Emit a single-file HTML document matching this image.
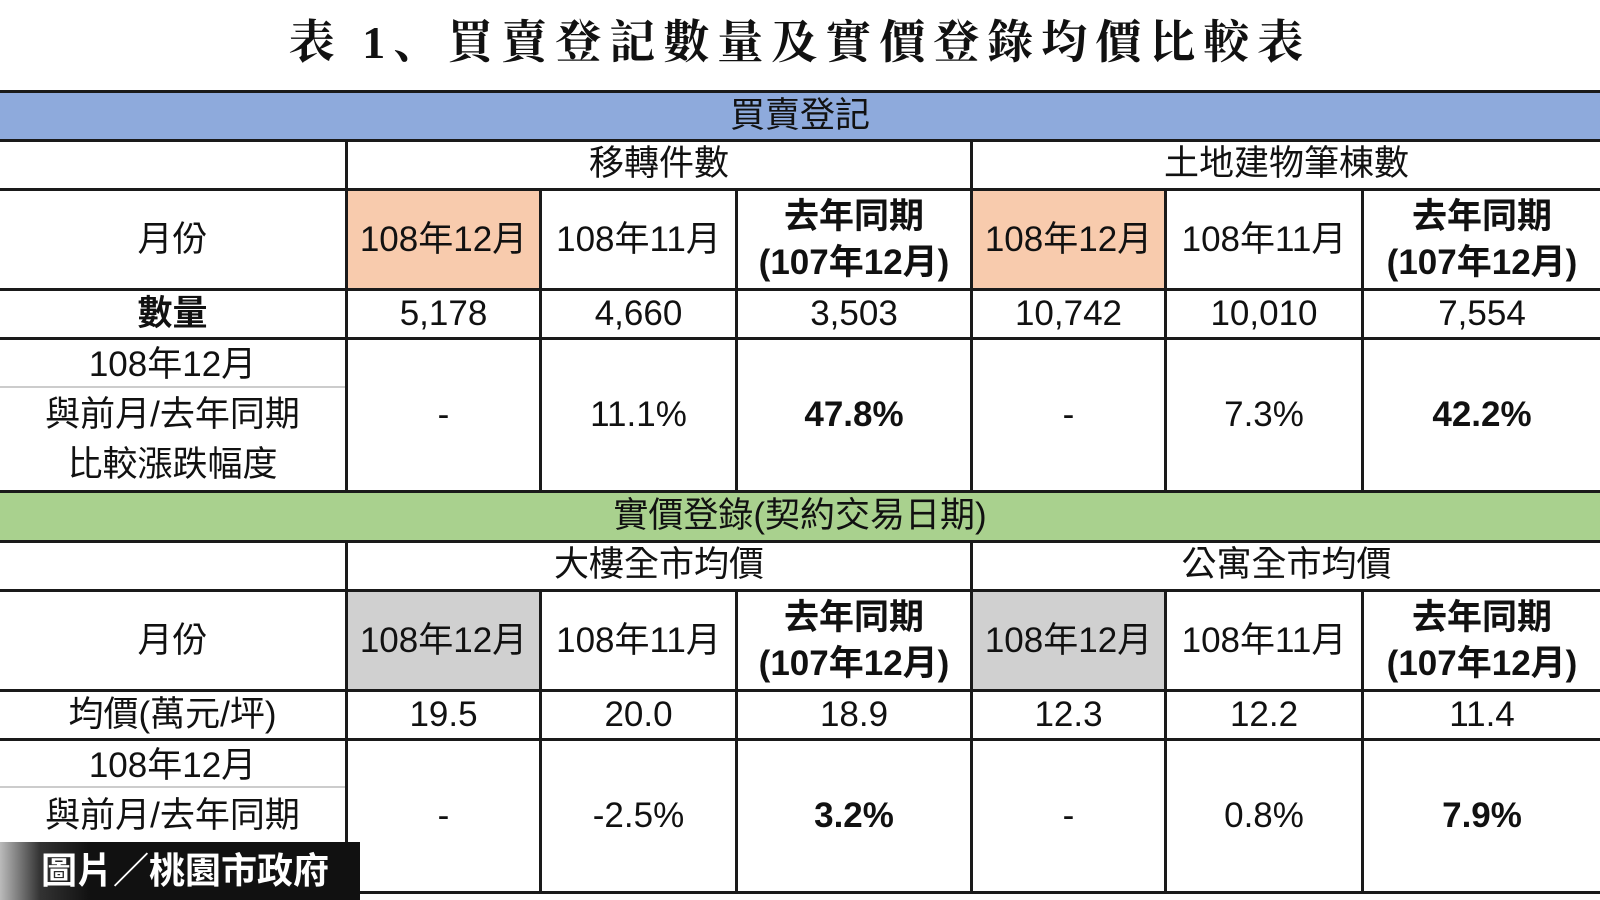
<!DOCTYPE html>
<html><head><meta charset="utf-8"><style>
body{margin:0;width:1600px;height:900px;background:#fff;position:relative;overflow:hidden;font-family:"Liberation Sans","Noto Sans CJK TC",sans-serif;color:#111}
div{position:absolute;box-sizing:border-box}
.h{left:0;width:1600px;height:3px;background:#1a1a1a}
.v{width:3px;background:#1a1a1a}
.t{display:flex;align-items:center;justify-content:center;text-align:center;font-size:35px;line-height:50px;white-space:nowrap}
.b{font-weight:bold}
</style></head><body>
<div class="t" style="left:0;top:10px;width:1600px;height:66px;font-family:'Liberation Serif','Noto Serif CJK SC',serif;font-weight:bold;font-size:46px;letter-spacing:8px">表 1、買賣登記數量及實價登錄均價比較表</div>

<div style="left:0;top:92px;width:1600px;height:48px;background:#8eaadc"></div>
<div style="left:0;top:491px;width:1600px;height:50px;background:#a9d18e"></div>
<div style="left:348px;top:191px;width:192px;height:98px;background:#f8cbad"></div>
<div style="left:973px;top:191px;width:192px;height:98px;background:#f8cbad"></div>
<div style="left:348px;top:592px;width:192px;height:98px;background:#d0d0d0"></div>
<div style="left:973px;top:592px;width:192px;height:98px;background:#d0d0d0"></div>

<div class="h" style="top:90px"></div>
<div class="h" style="top:139px"></div>
<div class="h" style="top:188px"></div>
<div class="h" style="top:288px"></div>
<div class="h" style="top:337px"></div>
<div class="h" style="top:490px"></div>
<div class="h" style="top:540px"></div>
<div class="h" style="top:589px"></div>
<div class="h" style="top:689px"></div>
<div class="h" style="top:738px"></div>
<div class="h" style="top:891px"></div>
<div style="left:0;top:386px;width:346px;height:2px;background:#ccc"></div>
<div style="left:0;top:786px;width:346px;height:2px;background:#ccc"></div>

<div class="v" style="left:345px;top:140px;height:351px"></div>
<div class="v" style="left:345px;top:541px;height:351px"></div>
<div class="v" style="left:970px;top:140px;height:351px"></div>
<div class="v" style="left:970px;top:541px;height:351px"></div>
<div class="v" style="left:539px;top:189px;height:302px"></div>
<div class="v" style="left:735px;top:189px;height:302px"></div>
<div class="v" style="left:1164px;top:189px;height:302px"></div>
<div class="v" style="left:1361px;top:189px;height:302px"></div>
<div class="v" style="left:539px;top:590px;height:302px"></div>
<div class="v" style="left:735px;top:590px;height:302px"></div>
<div class="v" style="left:1164px;top:590px;height:302px"></div>
<div class="v" style="left:1361px;top:590px;height:302px"></div>

<div class="t" style="left:0;top:92px;width:1600px;height:48px">買賣登記</div>
<div class="t" style="left:348px;top:140px;width:622px;height:48px">移轉件數</div>
<div class="t" style="left:973px;top:140px;width:627px;height:48px">土地建物筆棟數</div>
<div class="t" style="left:0;top:191px;width:345px;height:97px">月份</div>
<div class="t" style="left:348px;top:191px;width:191px;height:97px">108年12月</div>
<div class="t" style="left:542px;top:191px;width:193px;height:97px">108年11月</div>
<div class="t b" style="left:738px;top:191px;width:232px;height:97px;line-height:46px">去年同期<br>(107年12月)</div>
<div class="t" style="left:973px;top:191px;width:191px;height:97px">108年12月</div>
<div class="t" style="left:1167px;top:191px;width:194px;height:97px">108年11月</div>
<div class="t b" style="left:1364px;top:191px;width:236px;height:97px;line-height:46px">去年同期<br>(107年12月)</div>
<div class="t b" style="left:0;top:291px;width:345px;height:46px">數量</div>
<div class="t" style="left:348px;top:291px;width:191px;height:46px">5,178</div>
<div class="t" style="left:542px;top:291px;width:193px;height:46px">4,660</div>
<div class="t" style="left:738px;top:291px;width:232px;height:46px">3,503</div>
<div class="t" style="left:973px;top:291px;width:191px;height:46px">10,742</div>
<div class="t" style="left:1167px;top:291px;width:194px;height:46px">10,010</div>
<div class="t" style="left:1364px;top:291px;width:236px;height:46px">7,554</div>
<div class="t" style="left:0;top:340px;width:345px;height:150px;line-height:50px">108年12月<br>與前月/去年同期<br>比較漲跌幅度</div>
<div class="t" style="left:348px;top:340px;width:191px;height:150px">-</div>
<div class="t" style="left:542px;top:340px;width:193px;height:150px">11.1%</div>
<div class="t b" style="left:738px;top:340px;width:232px;height:150px">47.8%</div>
<div class="t" style="left:973px;top:340px;width:191px;height:150px">-</div>
<div class="t" style="left:1167px;top:340px;width:194px;height:150px">7.3%</div>
<div class="t b" style="left:1364px;top:340px;width:236px;height:150px">42.2%</div>

<div class="t" style="left:0;top:492px;width:1600px;height:48px">實價登錄(契約交易日期)</div>
<div class="t" style="left:348px;top:541px;width:622px;height:48px">大樓全市均價</div>
<div class="t" style="left:973px;top:541px;width:627px;height:48px">公寓全市均價</div>
<div class="t" style="left:0;top:592px;width:345px;height:97px">月份</div>
<div class="t" style="left:348px;top:592px;width:191px;height:97px">108年12月</div>
<div class="t" style="left:542px;top:592px;width:193px;height:97px">108年11月</div>
<div class="t b" style="left:738px;top:592px;width:232px;height:97px;line-height:46px">去年同期<br>(107年12月)</div>
<div class="t" style="left:973px;top:592px;width:191px;height:97px">108年12月</div>
<div class="t" style="left:1167px;top:592px;width:194px;height:97px">108年11月</div>
<div class="t b" style="left:1364px;top:592px;width:236px;height:97px;line-height:46px">去年同期<br>(107年12月)</div>
<div class="t" style="left:0;top:692px;width:345px;height:46px">均價(萬元/坪)</div>
<div class="t" style="left:348px;top:692px;width:191px;height:46px">19.5</div>
<div class="t" style="left:542px;top:692px;width:193px;height:46px">20.0</div>
<div class="t" style="left:738px;top:692px;width:232px;height:46px">18.9</div>
<div class="t" style="left:973px;top:692px;width:191px;height:46px">12.3</div>
<div class="t" style="left:1167px;top:692px;width:194px;height:46px">12.2</div>
<div class="t" style="left:1364px;top:692px;width:236px;height:46px">11.4</div>
<div class="t" style="left:0;top:741px;width:345px;height:100px;line-height:50px">108年12月<br>與前月/去年同期</div>
<div class="t" style="left:348px;top:741px;width:191px;height:150px">-</div>
<div class="t" style="left:542px;top:741px;width:193px;height:150px">-2.5%</div>
<div class="t b" style="left:738px;top:741px;width:232px;height:150px">3.2%</div>
<div class="t" style="left:973px;top:741px;width:191px;height:150px">-</div>
<div class="t" style="left:1167px;top:741px;width:194px;height:150px">0.8%</div>
<div class="t b" style="left:1364px;top:741px;width:236px;height:150px">7.9%</div>

<div class="t b" style="left:0;top:842px;width:360px;height:58px;background:linear-gradient(90deg,#bbb 0,#333 40px,#111 90px,#111 100%);color:#fff;font-size:36px;padding-left:10px">圖片／桃園市政府</div>
</body></html>
